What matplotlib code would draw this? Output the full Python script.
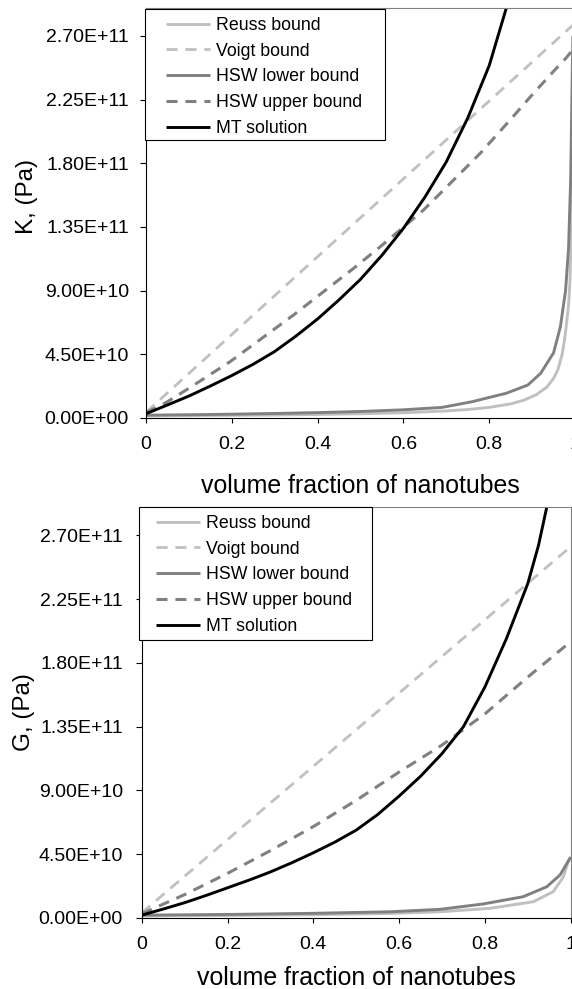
import matplotlib.pyplot as plt
from matplotlib.patches import Rectangle

plt.rcParams['font.family'] = ['Liberation Sans', 'DejaVu Sans']

# ---- bulk modulus K (top panel), values in Pa ----
f_reuss_k = [0, 0.1, 0.2, 0.3, 0.4, 0.5, 0.6, 0.7, 0.75, 0.8, 0.85, 0.88, 0.91,
             0.935, 0.95, 0.96, 0.97, 0.975, 0.98, 0.985, 0.988, 0.991, 0.994, 0.996]
reuss_k = [1.5e9, 1.7e9, 1.9e9, 2.1e9, 2.5e9, 3.0e9, 3.7e9, 5.0e9, 6.0e9, 7.5e9,
           10e9, 12.5e9, 16.5e9, 22e9, 28e9, 34e9, 45e9, 54e9, 66e9, 80e9, 95e9,
           125e9, 190e9, 260e9]
f_voigt_k = [0, 0.2, 0.4, 0.6, 0.8, 1.0]
voigt_k = [4e9, 59e9, 114e9, 169e9, 224e9, 279e9]
f_hswl_k = [0, 0.1, 0.2, 0.3, 0.4, 0.5, 0.6, 0.69, 0.76, 0.84, 0.89, 0.92, 0.95,
            0.966, 0.978, 0.985, 0.99, 0.993, 0.995]
hswl_k = [2.0e9, 2.3e9, 2.7e9, 3.2e9, 3.8e9, 4.6e9, 5.8e9, 7.5e9, 11.5e9, 17.5e9,
          23.3e9, 31.6e9, 46e9, 64.5e9, 90e9, 120e9, 170e9, 232e9, 270e9]
f_hswu_k = [0, 0.044, 0.1, 0.196, 0.3, 0.344, 0.4, 0.484, 0.546, 0.647, 0.7,
            0.779, 0.85, 0.896, 0.95, 0.978, 1.0]
hswu_k = [3.8e9, 10.4e9, 21e9, 39.8e9, 63e9, 72.8e9, 86e9, 105.8e9, 121e9, 147e9,
          163e9, 187e9, 211e9, 227e9, 245e9, 254e9, 262e9]
f_mt_k = [0, 0.05, 0.1, 0.15, 0.2, 0.25, 0.3, 0.35, 0.4, 0.45, 0.5, 0.55, 0.6,
          0.65, 0.7, 0.75, 0.8, 0.85, 0.88]
mt_k = [3e9, 9.2e9, 15.5e9, 22.6e9, 30e9, 38e9, 47e9, 58e9, 70e9, 83.5e9, 98e9,
        115e9, 134e9, 156e9, 181e9, 212e9, 249e9, 300e9, 335e9]

# ---- shear modulus G (bottom panel), values in Pa ----
f_reuss_g = [0, 0.2, 0.4, 0.58, 0.695, 0.812, 0.913, 0.959, 0.983, 0.994, 1.0]
reuss_g = [1.5e9, 1.8e9, 2.3e9, 3.2e9, 4.4e9, 6.8e9, 11.5e9, 18.5e9, 29e9,
           39.6e9, 43e9]
f_voigt_g = [0, 0.2, 0.4, 0.6, 0.8, 1.0]
voigt_g = [3.6e9, 55.3e9, 107e9, 158.7e9, 210.4e9, 262e9]
f_hswl_g = [0, 0.2, 0.4, 0.58, 0.695, 0.796, 0.889, 0.944, 0.975, 0.998, 1.0]
hswl_g = [2.0e9, 2.5e9, 3.3e9, 4.4e9, 6.1e9, 9.9e9, 15e9, 22e9, 30.3e9, 42e9, 43e9]
f_hswu_g = [0, 0.1, 0.2, 0.3, 0.4, 0.5, 0.6, 0.7, 0.8, 0.9, 1.0]
hswu_g = [3e9, 16.5e9, 31.5e9, 47.5e9, 64.5e9, 83e9, 103e9, 122e9, 144e9, 170e9, 195e9]
f_mt_g = [0, 0.05, 0.1, 0.15, 0.2, 0.25, 0.3, 0.35, 0.4, 0.45, 0.5, 0.55, 0.6,
          0.65, 0.7, 0.75, 0.8, 0.85, 0.9, 0.925, 0.95, 0.97]
mt_g = [2e9, 6.3e9, 10.8e9, 15.9e9, 21.3e9, 26.7e9, 32.5e9, 39e9, 46e9, 53.5e9,
        62e9, 73e9, 86e9, 100e9, 116e9, 135e9, 163e9, 197e9, 236e9, 263e9,
        298e9, 330e9]

labels = ['Reuss bound', 'Voigt bound', 'HSW lower bound', 'HSW upper bound',
          'MT solution']
yticks = [0, 4.5e10, 9.0e10, 1.35e11, 1.8e11, 2.25e11, 2.7e11]
xticks = [0, 0.2, 0.4, 0.6, 0.8, 1.0]
xticklabels = ['0', '0.2', '0.4', '0.6', '0.8', '1']

LIGHT = '#c0c0c0'
DARK = '#808080'
W, H = 572.0, 989.0


def px_box(x0, y0, x1, y1):
    # pixel box (top-left origin) -> figure fraction [left, bottom, width, height]
    return [x0 / W, 1 - y1 / H, (x1 - x0) / W, (y1 - y0) / H]


def draw_panel(ax, series, ylabel, ylab_pos, xlab_y, ypad, leg_box, leg_anchor):
    styles = [dict(color=LIGHT, lw=2.1, ls='-'),
              dict(color=LIGHT, lw=2.0, ls=(0, (4, 2.8))),
              dict(color=DARK, lw=2.1, ls='-'),
              dict(color=DARK, lw=2.2, ls=(0, (3.6, 2.6))),
              dict(color='black', lw=2.1, ls='-')]
    handles = []
    for (fx, fy), st, lab in zip(series, styles, labels):
        h, = ax.plot(fx, fy, label=lab, solid_capstyle='butt',
                     dash_capstyle='butt', **st)
        handles.append(h)

    ax.set_xlim(0, 1)
    ax.set_ylim(0, 2.9e11)
    ax.set_xticks(xticks)
    ax.set_xticklabels(xticklabels)
    ax.set_yticks(yticks)
    ax.set_yticklabels(['{:.2E}'.format(v) for v in yticks])
    ax.tick_params(axis='y', direction='out', length=4.3, width=0.8,
                   labelsize=14, pad=ypad)
    ax.tick_params(axis='x', direction='out', length=3.8, width=0.8,
                   labelsize=14, pad=9.5)
    for s in ('left', 'bottom'):
        ax.spines[s].set_color('black')
        ax.spines[s].set_linewidth(0.8)
    for s in ('top', 'right'):
        ax.spines[s].set_color(DARK)
        ax.spines[s].set_linewidth(0.8)

    ax.set_ylabel(ylabel, fontsize=17.5)
    ax.yaxis.set_label_coords(*ylab_pos)
    ax.yaxis.label.set_va('center')
    ax.set_xlabel('volume fraction of nanotubes', fontsize=17.9)
    ax.xaxis.set_label_coords(0.5, xlab_y)
    ax.xaxis.label.set_va('center')

    # legend box drawn by hand, entries placed inside without frame
    x0, y0, x1, y1 = leg_box
    fig.patches.append(Rectangle((x0 / W, 1 - y1 / H), (x1 - x0) / W, (y1 - y0) / H,
                                 transform=fig.transFigure, facecolor='white',
                                 edgecolor='black', lw=0.8, zorder=5))
    leg = fig.legend(handles=handles, loc='upper left', frameon=False,
                     bbox_to_anchor=(leg_anchor[0] / W, 1 - leg_anchor[1] / H),
                     borderpad=0, borderaxespad=0, fontsize=12.8,
                     handlelength=2.45, handletextpad=0.35, labelspacing=0.49)
    leg.set_zorder(6)


fig = plt.figure(figsize=(5.72, 9.89), dpi=100)
ax1 = fig.add_axes(px_box(146, 7.6, 575, 418))
ax2 = fig.add_axes(px_box(141.7, 507, 570.7, 918))

draw_panel(ax1,
           [(f_reuss_k, reuss_k), (f_voigt_k, voigt_k), (f_hswl_k, hswl_k),
            (f_hswu_k, hswu_k), (f_mt_k, mt_k)],
           'K, (Pa)', (-0.277, 0.54), -0.166, 8.0,
           (145, 9, 385, 140), (166, 17))
draw_panel(ax2,
           [(f_reuss_g, reuss_g), (f_voigt_g, voigt_g), (f_hswl_g, hswl_g),
            (f_hswu_g, hswu_g), (f_mt_g, mt_g)],
           'G, (Pa)', (-0.274, 0.5), -0.146, 9.2,
           (139.3, 507, 372, 640), (156, 515))

fig.savefig('out.png', dpi=100)
